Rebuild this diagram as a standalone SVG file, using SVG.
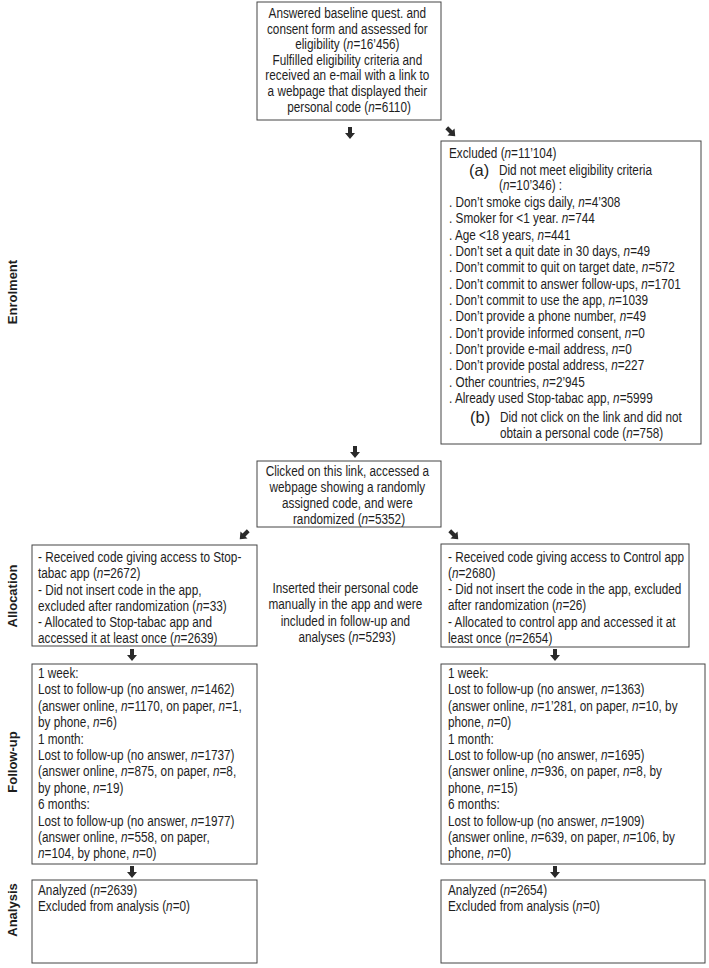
<svg xmlns="http://www.w3.org/2000/svg" xmlns:xlink="http://www.w3.org/1999/xlink" width="709" height="968" viewBox="0 0 709 968">
<style>
.bx{fill:#fff;stroke:#444;stroke-width:1}
text{font-family:"Liberation Sans",Arial,sans-serif;fill:#1e1e1e}
.t{font-size:15px}
.big{font-size:16.5px}
.lab{font-size:13px;font-weight:bold}
.i{font-style:italic}
.ar{fill:#2a2a2a}
</style>
<defs>
<path id="ad" d="M-2,-6 H2 V0 H5 L0,6 L-5,0 H-2 Z"/>
</defs>
<rect width="709" height="968" fill="#fff"/>

<g id="labels">
<text class="lab" transform="translate(17,292) rotate(-90)" text-anchor="middle">Enrolment</text>
<text class="lab" transform="translate(17,596) rotate(-90)" text-anchor="middle">Allocation</text>
<text class="lab" transform="translate(17,762) rotate(-90)" text-anchor="middle">Follow-up</text>
<text class="lab" transform="translate(17,910) rotate(-90)" text-anchor="middle">Analysis</text>
</g>

<g id="connectors" class="ar">
<use xlink:href="#ad" transform="translate(350,133)"/>
<use xlink:href="#ad" transform="translate(451,132) rotate(-45)"/>
<use xlink:href="#ad" transform="translate(355,452)"/>
<use xlink:href="#ad" transform="translate(244,535) rotate(45)"/>
<use xlink:href="#ad" transform="translate(454,535) rotate(-45)"/>
<use xlink:href="#ad" transform="translate(132,655)"/>
<use xlink:href="#ad" transform="translate(555,655)"/>
<use xlink:href="#ad" transform="translate(132,872)"/>
<use xlink:href="#ad" transform="translate(555,872)"/>
</g>

<g id="baseline">
<rect class="bx" x="257" y="2" width="184" height="118"/>
<text class="t" text-anchor="middle" transform="translate(349,18) scale(0.785,1)">
<tspan x="0">Answered baseline quest. and</tspan>
<tspan x="0" dy="15.6">consent form and assessed for</tspan>
<tspan x="0" dy="15.6">eligibility (<tspan class="i">n</tspan>=16’456)</tspan>
<tspan x="0" dy="15.6">Fulfilled eligibility criteria and</tspan>
<tspan x="0" dy="15.6">received an e-mail with a link to</tspan>
<tspan x="0" dy="15.6">a webpage that displayed their</tspan>
<tspan x="0" dy="15.6">personal code (<tspan class="i">n</tspan>=6110)</tspan>
</text>
</g>

<g id="excluded">
<rect class="bx" x="441" y="141" width="260" height="303"/>
<text class="t" transform="translate(449,158) scale(0.785,1)">Excluded (<tspan class="i">n</tspan>=11’104)</text>
<text class="big" x="469" y="175.5">(a)</text>
<text class="t" transform="translate(499,175) scale(0.785,1)">
<tspan x="0">Did not meet eligibility criteria</tspan>
<tspan x="0" dy="15.5">(<tspan class="i">n</tspan>=10’346) :</tspan>
</text>
<text class="t" transform="translate(449,207) scale(0.785,1)">
<tspan x="0">. Don’t smoke cigs daily, <tspan class="i">n</tspan>=4’308</tspan>
<tspan x="0" dy="16.33">. Smoker for &lt;1 year. <tspan class="i">n</tspan>=744</tspan>
<tspan x="0" dy="16.33">. Age &lt;18 years, <tspan class="i">n</tspan>=441</tspan>
<tspan x="0" dy="16.33">. Don’t set a quit date in 30 days, <tspan class="i">n</tspan>=49</tspan>
<tspan x="0" dy="16.33">. Don’t commit to quit on target date, <tspan class="i">n</tspan>=572</tspan>
<tspan x="0" dy="16.33">. Don’t commit to answer follow-ups, <tspan class="i">n</tspan>=1701</tspan>
<tspan x="0" dy="16.33">. Don’t commit to use the app, <tspan class="i">n</tspan>=1039</tspan>
<tspan x="0" dy="16.33">. Don’t provide a phone number, <tspan class="i">n</tspan>=49</tspan>
<tspan x="0" dy="16.33">. Don’t provide informed consent, <tspan class="i">n</tspan>=0</tspan>
<tspan x="0" dy="16.33">. Don’t provide e-mail address, <tspan class="i">n</tspan>=0</tspan>
<tspan x="0" dy="16.33">. Don’t provide postal address, <tspan class="i">n</tspan>=227</tspan>
<tspan x="0" dy="16.33">. Other countries, <tspan class="i">n</tspan>=2’945</tspan>
<tspan x="0" dy="16.33">. Already used Stop-tabac app, <tspan class="i">n</tspan>=5999</tspan>
</text>
<text class="big" x="470" y="422.5">(b)</text>
<text class="t" transform="translate(500,422) scale(0.785,1)">
<tspan x="0">Did not click on the link and did not</tspan>
<tspan x="0" dy="16.5">obtain a personal code (<tspan class="i">n</tspan>=758)</tspan>
</text>
</g>

<g id="randomized">
<rect class="bx" x="257" y="461" width="184" height="66"/>
<text class="t" text-anchor="middle" transform="translate(349,475.5) scale(0.785,1)">
<tspan x="0">Clicked on this link, accessed a</tspan>
<tspan x="0" dy="16.2">webpage showing a randomly</tspan>
<tspan x="0" dy="16.2">assigned code, and were</tspan>
<tspan x="0" dy="16.2">randomized (<tspan class="i">n</tspan>=5352)</tspan>
</text>
</g>

<g id="alloc-left">
<rect class="bx" x="32" y="545" width="225" height="101"/>
<text class="t" transform="translate(38,562) scale(0.785,1)">
<tspan x="0">- Received code giving access to Stop-</tspan>
<tspan x="0" dy="16.3">tabac app (<tspan class="i">n</tspan>=2672)</tspan>
<tspan x="0" dy="16.3">- Did not insert code in the app,</tspan>
<tspan x="0" dy="16.3">excluded after randomization (<tspan class="i">n</tspan>=33)</tspan>
<tspan x="0" dy="16.3">- Allocated to Stop-tabac app and</tspan>
<tspan x="0" dy="16.3">accessed it at least once (<tspan class="i">n</tspan>=2639)</tspan>
</text>
</g>

<g id="inserted">
<text class="t" text-anchor="middle" transform="translate(347,593) scale(0.785,1)">
<tspan x="0">Inserted their personal code</tspan>
<tspan x="0" dy="16.5">manually in the app and were</tspan>
<tspan x="0" dy="16.5">included in follow-up and</tspan>
<tspan x="0" dy="16.5">analyses (<tspan class="i">n</tspan>=5293)</tspan>
</text>
</g>

<g id="alloc-right">
<rect class="bx" x="441" y="544" width="248" height="103"/>
<text class="t" transform="translate(448,561.5) scale(0.785,1)">
<tspan x="0">- Received code giving access to Control app</tspan>
<tspan x="0" dy="16.3">(<tspan class="i">n</tspan>=2680)</tspan>
<tspan x="0" dy="16.3">- Did not insert the code in the app, excluded</tspan>
<tspan x="0" dy="16.3">after randomization (<tspan class="i">n</tspan>=26)</tspan>
<tspan x="0" dy="16.3">- Allocated to control app and accessed it at</tspan>
<tspan x="0" dy="16.3">least once (<tspan class="i">n</tspan>=2654)</tspan>
</text>
</g>

<g id="followup-left">
<rect class="bx" x="32" y="664" width="225" height="200"/>
<text class="t" transform="translate(38,678) scale(0.785,1)">
<tspan x="0">1 week:</tspan>
<tspan x="0" dy="16.4">Lost to follow-up (no answer, <tspan class="i">n</tspan>=1462)</tspan>
<tspan x="0" dy="16.4">(answer online, <tspan class="i">n</tspan>=1170, on paper, <tspan class="i">n</tspan>=1,</tspan>
<tspan x="0" dy="16.4">by phone, <tspan class="i">n</tspan>=6)</tspan>
<tspan x="0" dy="16.4">1 month:</tspan>
<tspan x="0" dy="16.4">Lost to follow-up (no answer, <tspan class="i">n</tspan>=1737)</tspan>
<tspan x="0" dy="16.4">(answer online, <tspan class="i">n</tspan>=875, on paper, <tspan class="i">n</tspan>=8,</tspan>
<tspan x="0" dy="16.4">by phone, <tspan class="i">n</tspan>=19)</tspan>
<tspan x="0" dy="16.4">6 months:</tspan>
<tspan x="0" dy="16.4">Lost to follow-up (no answer, <tspan class="i">n</tspan>=1977)</tspan>
<tspan x="0" dy="16.4">(answer online, <tspan class="i">n</tspan>=558, on paper,</tspan>
<tspan x="0" dy="16.4"><tspan class="i">n</tspan>=104, by phone, <tspan class="i">n</tspan>=0)</tspan>
</text>
</g>

<g id="followup-right">
<rect class="bx" x="441" y="664" width="264" height="200"/>
<text class="t" transform="translate(448,678) scale(0.785,1)">
<tspan x="0">1 week:</tspan>
<tspan x="0" dy="16.4">Lost to follow-up (no answer, <tspan class="i">n</tspan>=1363)</tspan>
<tspan x="0" dy="16.4">(answer online, <tspan class="i">n</tspan>=1’281, on paper, <tspan class="i">n</tspan>=10, by</tspan>
<tspan x="0" dy="16.4">phone, <tspan class="i">n</tspan>=0)</tspan>
<tspan x="0" dy="16.4">1 month:</tspan>
<tspan x="0" dy="16.4">Lost to follow-up (no answer, <tspan class="i">n</tspan>=1695)</tspan>
<tspan x="0" dy="16.4">(answer online, <tspan class="i">n</tspan>=936, on paper, <tspan class="i">n</tspan>=8, by</tspan>
<tspan x="0" dy="16.4">phone, <tspan class="i">n</tspan>=15)</tspan>
<tspan x="0" dy="16.4">6 months:</tspan>
<tspan x="0" dy="16.4">Lost to follow-up (no answer, <tspan class="i">n</tspan>=1909)</tspan>
<tspan x="0" dy="16.4">(answer online, <tspan class="i">n</tspan>=639, on paper, <tspan class="i">n</tspan>=106, by</tspan>
<tspan x="0" dy="16.4">phone, <tspan class="i">n</tspan>=0)</tspan>
</text>
</g>

<g id="analysis-left">
<rect class="bx" x="32" y="880" width="225" height="83"/>
<text class="t" transform="translate(38,894.5) scale(0.785,1)">
<tspan x="0">Analyzed (<tspan class="i">n</tspan>=2639)</tspan>
<tspan x="0" dy="16.4">Excluded from analysis (<tspan class="i">n</tspan>=0)</tspan>
</text>
</g>

<g id="analysis-right">
<rect class="bx" x="441" y="880" width="264" height="83"/>
<text class="t" transform="translate(448,894.5) scale(0.785,1)">
<tspan x="0">Analyzed (<tspan class="i">n</tspan>=2654)</tspan>
<tspan x="0" dy="16.4">Excluded from analysis (<tspan class="i">n</tspan>=0)</tspan>
</text>
</g>
</svg>
